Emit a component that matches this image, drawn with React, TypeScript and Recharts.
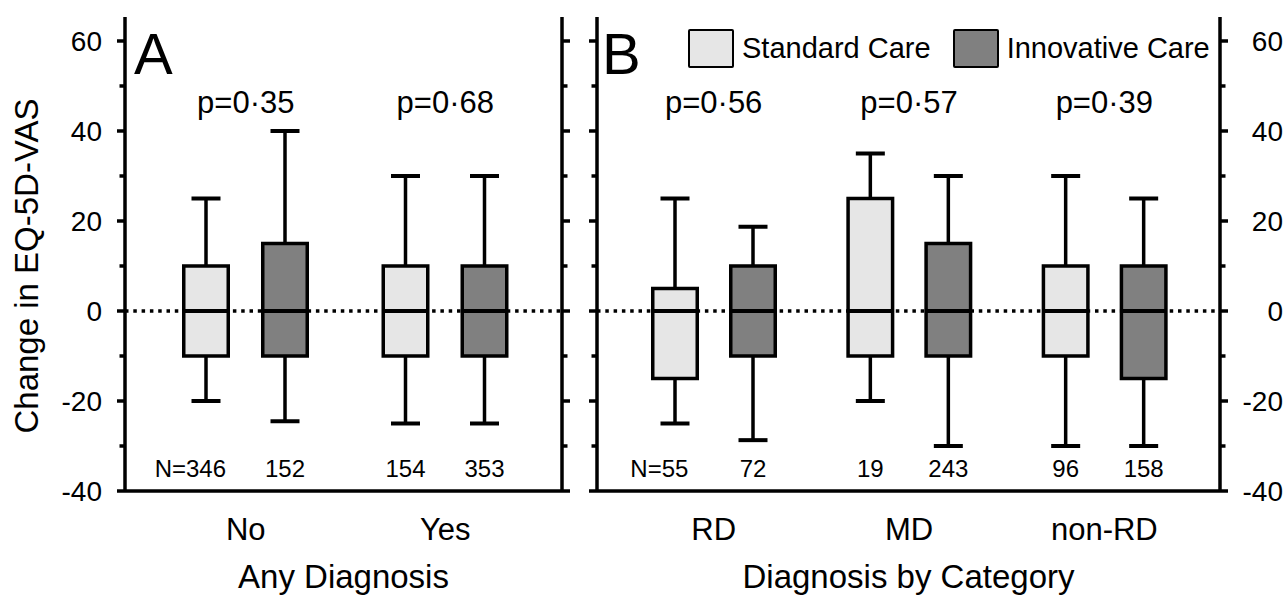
import React from 'react';
import {
  ComposedChart,
  Bar,
  XAxis,
  YAxis,
  ReferenceLine,
  ReferenceDot,
  Legend,
  Customized,
  Label,
} from 'recharts';

// ---------- data ----------
// box stats: [min (lower whisker), Q1, median, Q3, max (upper whisker)]
const anyDxCategories = ['No', 'Yes'];
const anyDxStandard = [
  [-20, -10, 0, 10, 25],
  [-25, -10, 0, 10, 30],
];
const anyDxInnovative = [
  [-24.5, -10, 0, 15, 40],
  [-25, -10, 0, 10, 30],
];
const anyDxStandardN = [346, 154];
const anyDxInnovativeN = [152, 353];
const anyDxPValues = ['p=0·35', 'p=0·68'];

const catCategories = ['RD', 'MD', 'non-RD'];
const catStandard = [
  [-25, -15, 0, 5, 25],
  [-20, -10, 0, 25, 35],
  [-30, -10, 0, 10, 30],
];
const catInnovative = [
  [-28.7, -10, 0, 10, 18.7],
  [-30, -10, 0, 15, 30],
  [-30, -15, 0, 10, 25],
];
const catStandardN = [55, 19, 96];
const catInnovativeN = [72, 243, 158];
const catPValues = ['p=0·56', 'p=0·57', 'p=0·39'];

const seriesNames = ['Standard Care', 'Innovative Care'];
const yTicks = [-40, -30, -20, -10, 0, 10, 20, 30, 40, 50, 60];
const Y_DOMAIN: [number, number] = [-40, 65.33];
const P_LABEL_Y = 44;
const N_LABEL_Y = -36.9;

// ---------- styles ----------
const FONT = '"Liberation Sans", Arial, Helvetica, sans-serif';
const STD_FILL = '#e6e6e6';
const INN_FILL = '#808080';
const N_FS = 24;
const LW = 3.5;

type Row = {
  cat: string;
  std: number[];
  inn: number[];
  stdN: number;
  innN: number;
};

const buildRows = (
  cats: string[],
  std: number[][],
  inn: number[][],
  stdN: number[],
  innN: number[]
): Row[] =>
  cats.map((c, i) => ({ cat: c, std: std[i], inn: inn[i], stdN: stdN[i], innN: innN[i] }));

const makeBoxShape = (key: 'std' | 'inn', nKey: 'stdN' | 'innN', fill: string, prefixFirst: boolean) =>
  (props: any) => {
    const { x, y, width, height, payload, index } = props;
    const [mn, q1, md, q3, mx] = payload[key];
    const top = Math.min(y, y + height);
    const bot = Math.max(y, y + height);
    const k = (bot - top) / (mx - mn);
    const py = (v: number) => top + (mx - v) * k;
    const cx = x + width / 2;
    const n = payload[nKey];
    const withPrefix = prefixFirst && index === 0;
    const digits = String(n).length;
    const tx = withPrefix ? cx + digits * 0.278 * N_FS : cx;
    return (
      <g>
        <line x1={cx} x2={cx} y1={py(mx)} y2={py(q3)} stroke="#000" strokeWidth={LW} />
        <line x1={cx} x2={cx} y1={py(q1)} y2={py(mn)} stroke="#000" strokeWidth={LW} />
        <line x1={cx - 14.5} x2={cx + 14.5} y1={py(mx)} y2={py(mx)} stroke="#000" strokeWidth={4} />
        <line x1={cx - 14.5} x2={cx + 14.5} y1={py(mn)} y2={py(mn)} stroke="#000" strokeWidth={4} />
        <rect
          x={x + 1.75}
          y={py(q3)}
          width={width - 3.5}
          height={py(q1) - py(q3)}
          fill={fill}
          stroke="#000"
          strokeWidth={LW}
        />
        <line x1={x + 1.75} x2={x + width - 1.75} y1={py(md)} y2={py(md)} stroke="#000" strokeWidth={4} />
        <text
          x={tx}
          y={py(N_LABEL_Y)}
          textAnchor={withPrefix ? 'end' : 'middle'}
          fontFamily={FONT}
          fontSize={N_FS}
          fill="#000"
        >
          {withPrefix ? `N=${n}` : String(n)}
        </text>
      </g>
    );
  };

const makeYTick = (side: 'left' | 'right', labels: boolean, labelDx: number) => (props: any) => {
  const { x, y, payload } = props;
  const v = payload.value;
  const major = v % 20 === 0;
  const len = major ? 8 : 5.5;
  const dir = side === 'left' ? -1 : 1;
  return (
    <g>
      <line x1={x} x2={x + dir * len} y1={y} y2={y} stroke="#000" strokeWidth={LW} />
      {labels && major ? (
        <text x={x + labelDx} y={y + 10} textAnchor="end" fontFamily={FONT} fontSize={28} fill="#000">
          {v}
        </text>
      ) : null}
    </g>
  );
};

const XTick = (props: any) => {
  const { x, y, payload } = props;
  return (
    <text x={x} y={y + 49} textAnchor="middle" fontFamily={FONT} fontSize={31} fill="#000">
      {payload.value}
    </text>
  );
};

const LegendContent = (props: any) => {
  const items = [...(props.payload || [])].sort(
    (a: any, b: any) => seriesNames.indexOf(a.value) - seriesNames.indexOf(b.value)
  );
  return (
    <div style={{ display: 'flex', alignItems: 'center', fontFamily: FONT, fontSize: 29, color: '#000' }}>
      {items.map((e: any, i: number) => (
        <div key={i} style={{ display: 'flex', alignItems: 'center', marginRight: i === 0 ? 22 : 0 }}>
          <div
            style={{
              width: 46,
              height: 39,
              boxSizing: 'border-box',
              background: e.color,
              border: '2.5px solid #000',
              borderRadius: 2,
            }}
          />
          <span style={{ marginLeft: 8, whiteSpace: 'nowrap' }}>{e.value}</span>
        </div>
      ))}
    </div>
  );
};

type PanelProps = {
  width: number;
  rows: Row[];
  categories: string[];
  pValues: string[];
  padding: { left: number; right: number };
  barGap: number;
  leftAxisW: number;
  rightAxisW: number;
  leftLabels: boolean;
  rightLabels: boolean;
  title: string;
  letter: string;
  letterX: number;
  yTitle?: string;
  legend?: boolean;
};

const Panel = (p: PanelProps) => (
  <ComposedChart
    width={p.width}
    height={597}
    data={p.rows}
    margin={{ top: 17, right: 0, bottom: 0, left: 0 }}
    barSize={48}
    barGap={p.barGap}
  >
    <XAxis
      dataKey="cat"
      type="category"
      height={106}
      padding={p.padding}
      tickSize={0}
      tickMargin={0}
      tick={<XTick />}
      axisLine={{ stroke: '#000', strokeWidth: LW }}
      interval={0}
    >
      <Label
        value={p.title}
        position="insideBottom"
        offset={9}
        fill="#000"
        fontSize={33}
        fontFamily={FONT}
      />
    </XAxis>
    <XAxis
      xAxisId="top"
      dataKey="cat"
      orientation="top"
      height={0}
      padding={p.padding}
      tick={false}
      tickLine={false}
      axisLine={{ stroke: '#000', strokeWidth: LW }}
    />
    <YAxis
      type="number"
      domain={Y_DOMAIN}
      ticks={yTicks}
      allowDataOverflow
      width={p.leftAxisW}
      tickSize={0}
      tickMargin={0}
      tick={makeYTick('left', p.leftLabels, -23)}
      axisLine={{ stroke: '#000', strokeWidth: LW }}
      interval={0}
    />
    <YAxis
      yAxisId="r"
      orientation="right"
      type="number"
      domain={Y_DOMAIN}
      ticks={yTicks}
      allowDataOverflow
      width={p.rightAxisW}
      tickSize={0}
      tickMargin={0}
      tick={makeYTick('right', p.rightLabels, 63)}
      axisLine={{ stroke: '#000', strokeWidth: LW }}
      interval={0}
    />
    <ReferenceLine y={0} stroke="#000" strokeWidth={3.5} strokeDasharray="3.5 4.8" ifOverflow="hidden" />
    <Bar
      dataKey={(d: Row) => [d.std[0], d.std[4]]}
      name={seriesNames[0]}
      fill={STD_FILL}
      isAnimationActive={false}
      shape={makeBoxShape('std', 'stdN', STD_FILL, true)}
    />
    <Bar
      dataKey={(d: Row) => [d.inn[0], d.inn[4]]}
      name={seriesNames[1]}
      fill={INN_FILL}
      isAnimationActive={false}
      shape={makeBoxShape('inn', 'innN', INN_FILL, false)}
    />
    {p.pValues.map((pv, i) => (
      <ReferenceDot
        key={pv + i}
        x={p.categories[i]}
        y={P_LABEL_Y}
        r={0}
        ifOverflow="visible"
        shape={(sp: any) => (
          <text x={sp.cx} y={sp.cy} textAnchor="middle" fontFamily={FONT} fontSize={31} fill="#000">
            {pv}
          </text>
        )}
      />
    ))}
    {p.legend ? (
      <Legend
        verticalAlign="middle"
        align="center"
        layout="horizontal"
        content={<LegendContent />}
        wrapperStyle={{ top: 29, left: 108, width: 'auto', height: 'auto' }}
      />
    ) : null}
    <Customized
      component={() => (
        <g>
          <text x={p.letterX} y={74} fontFamily={FONT} fontSize={58} fill="#000">
            {p.letter}
          </text>
          {p.yTitle ? (
            <text
              transform="translate(38,266) rotate(-90)"
              textAnchor="middle"
              fontFamily={FONT}
              fontSize={33}
              fill="#000"
            >
              {p.yTitle}
            </text>
          ) : null}
        </g>
      )}
    />
  </ComposedChart>
);

export default function App() {
  const rowsA = buildRows(anyDxCategories, anyDxStandard, anyDxInnovative, anyDxStandardN, anyDxInnovativeN);
  const rowsB = buildRows(catCategories, catStandard, catInnovative, catStandardN, catInnovativeN);
  return (
    <div
      style={{
        position: 'absolute',
        left: 0,
        top: 0,
        width: 1288,
        height: 597,
        display: 'flex',
        background: '#fff',
        fontFamily: FONT,
      }}
    >
      <Panel
        width={580}
        rows={rowsA}
        categories={anyDxCategories}
        pValues={anyDxPValues}
        padding={{ left: 21, right: 17 }}
        barGap={31}
        leftAxisW={125}
        rightAxisW={18}
        leftLabels={true}
        rightLabels={false}
        title="Any Diagnosis"
        letter="A"
        letterX={134}
        yTitle="Change in EQ-5D-VAS"
      />
      <Panel
        width={708}
        rows={rowsB}
        categories={catCategories}
        pValues={catPValues}
        padding={{ left: 19, right: 18 }}
        barGap={30}
        leftAxisW={17}
        rightAxisW={68}
        leftLabels={false}
        rightLabels={true}
        title="Diagnosis by Category"
        letter="B"
        letterX={22}
        legend={true}
      />
    </div>
  );
}
